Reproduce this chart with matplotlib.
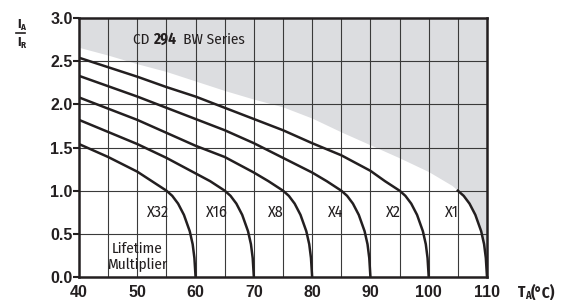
import matplotlib
matplotlib.use('Agg')
import matplotlib.pyplot as plt
from matplotlib.lines import Line2D
from matplotlib import font_manager

names = {f.name for f in font_manager.fontManager.ttflist}
COND = 'DejaVu Sans'
for cand in ['Fira Sans Condensed', 'PT Sans Narrow', 'Open Sans Condensed', 'Asap Condensed',
             'Barlow Semi Condensed', 'Archivo Narrow', 'Liberation Sans Narrow']:
    if cand in names:
        COND = cand
        break
BOLD = 'Liberation Sans'

ink = '#231f20'
shade = '#dcdde0'

# ---- data ----
x32 = [40, 45, 50, 52.5, 55, 56, 57, 58, 59, 59.5, 59.8, 60]
y32 = [1.54, 1.39, 1.22, 1.11, 1.00, 0.94, 0.85, 0.72, 0.53, 0.38, 0.22, 0.0]

x16 = [40, 45, 50, 55, 60, 62.5, 65, 66, 67, 68, 69, 69.5, 69.8, 70]
y16 = [1.82, 1.68, 1.54, 1.38, 1.20, 1.11, 1.00, 0.94, 0.85, 0.72, 0.53, 0.38, 0.22, 0.0]

x8 = [40, 45, 50, 55, 60, 65, 70, 72.5, 75, 76, 77, 78, 79, 79.5, 79.8, 80]
y8 = [2.08, 1.95, 1.82, 1.67, 1.52, 1.39, 1.21, 1.11, 1.00, 0.94, 0.85, 0.72, 0.53, 0.38, 0.22, 0.0]

x4 = [40, 45, 50, 55, 60, 65, 70, 75, 80, 82.5, 85, 86, 87, 88, 89, 89.5, 89.8, 90]
y4 = [2.33, 2.21, 2.09, 1.96, 1.83, 1.70, 1.55, 1.38, 1.21, 1.11, 1.00, 0.94, 0.85, 0.72, 0.53, 0.38, 0.22, 0.0]

x2 = [40, 45, 50, 55, 60, 65, 70, 75, 80, 85, 90, 92.5, 95, 96, 97, 98, 99, 99.5, 99.8, 100]
y2 = [2.54, 2.43, 2.32, 2.20, 2.09, 1.96, 1.83, 1.70, 1.55, 1.41, 1.23, 1.11, 1.00, 0.94, 0.85, 0.72, 0.53, 0.38, 0.22, 0.0]

x1 = [105, 106, 107, 108, 109, 109.5, 109.8, 110]
y1 = [1.00, 0.94, 0.85, 0.72, 0.53, 0.38, 0.22, 0.0]

gray_x = [40, 45, 50, 55, 60, 65, 70, 75, 80, 85, 90, 95, 100, 102, 104, 105]
gray_y = [2.66, 2.57, 2.47, 2.38, 2.27, 2.16, 2.06, 1.97, 1.84, 1.68, 1.53, 1.38, 1.22, 1.14, 1.06, 1.0]

curve_labels = ['X32', 'X16', 'X8', 'X4', 'X2', 'X1']
label_x = [53.5, 63.7, 73.7, 84.0, 94.0, 104.0]

x_ticks = [40, 50, 60, 70, 80, 90, 100, 110]
y_ticks = [0.0, 0.5, 1.0, 1.5, 2.0, 2.5, 3.0]

# ---- figure ----
W, H = 568, 300
fig = plt.figure(figsize=(W / 100, H / 100), dpi=100)
ax = fig.add_axes([79 / W, 23 / H, 408 / W, 259 / H])
ax.set_xlim(40, 110)
ax.set_ylim(0, 3.0)

# shaded region
ax.fill_between(gray_x[:-1] + x1, gray_y[:-1] + y1, 3.0, color=shade, lw=0, zorder=0)

# grid
for xv in range(45, 110, 5):
    ax.axvline(xv, color='#3a3a3a', lw=0.8, zorder=1)
for yv in y_ticks[1:-1]:
    ax.axhline(yv, color='#3a3a3a', lw=0.8, zorder=1)

for xs, ys in [(x32, y32), (x16, y16), (x8, y8), (x4, y4), (x2, y2), (x1, y1)]:
    ax.plot(xs, ys, color=ink, lw=1.8, zorder=3, solid_joinstyle='round')

for s in ax.spines.values():
    s.set_color(ink)
    s.set_linewidth(1.8)
    s.set_zorder(4)

ax.set_xticks(x_ticks)
ax.set_xticklabels([str(v) for v in x_ticks])
ax.set_yticks(y_ticks)
ax.set_yticklabels([f'{v:.1f}' for v in y_ticks])
ax.tick_params(axis='x', length=0, pad=6, labelsize=11.5, labelcolor=ink)
ax.tick_params(axis='y', length=4, width=1.5, color=ink, pad=0.5, labelsize=11.5, labelcolor=ink)
for lab in ax.get_xticklabels() + ax.get_yticklabels():
    lab.set_fontfamily(BOLD)
    lab.set_fontweight('bold')

for lab, lx in zip(curve_labels, label_x):
    ax.text(lx, 0.75, lab, ha='center', va='center', fontsize=11.5, family=COND,
            fontweight='normal', color=ink, zorder=5)

ax.text(50, 0.23, 'Lifetime\nMultiplier', ha='center', va='center', fontsize=11,
        family=COND, fontweight='normal', color=ink, linespacing=1.2, zorder=5)

fig.canvas.draw()
renderer = fig.canvas.get_renderer()


def chain(parts, x0, y0):
    """Place consecutive text pieces in pixel coordinates (x0 = left, y0 = baseline from top)."""
    x = x0
    for txt, size, weight, dy in parts:
        t = fig.text(x / W, 1 - (y0 + dy) / H, txt, fontsize=size, fontweight=weight,
                     family=COND, color=ink, ha='left', va='baseline')
        bb = t.get_window_extent(renderer)
        x = bb.x1
    return x


# title inside plot
chain([('CD ', 11, 'normal', 0), ('294', 11, 'bold', 0), ('  BW Series', 11, 'normal', 0)], 133, 44)

# y label: I_A over I_R
chain([('I', 9.5, 'bold', 0), ('A', 6.5, 'bold', 1.5)], 17, 28)
fig.add_artist(Line2D([16 / W, 25 / W], [1 - 33 / H, 1 - 33 / H], color=ink, lw=1.2))
chain([('I', 9.5, 'bold', 0), ('R', 6.5, 'bold', 1.5)], 17, 46)

# x label: T_A(°C)
chain([('T', 11, 'bold', 0), ('A', 7.5, 'bold', 2), ('(°C)', 11, 'bold', 0)], 518, 297)

fig.savefig('out.png', dpi=100)
